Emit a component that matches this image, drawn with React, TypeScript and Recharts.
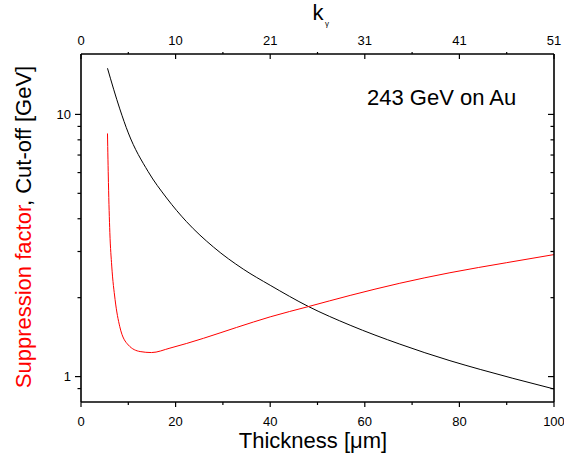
import React from 'react';
import { LineChart, Line, XAxis, YAxis } from 'recharts';

// Black curve: cut-off energy [GeV] vs thickness [µm]
const thicknessCut = [5.6, 8.2, 10.0, 14.2, 18.1, 22.3, 28.0, 34.3, 40.0, 48.1, 56.9, 67.4, 78.0, 84.4, 91.3, 100];
const cutOff = [15.0, 10.5, 8.5, 6.05, 4.8, 3.9, 3.12, 2.57, 2.23, 1.85, 1.57, 1.33, 1.15, 1.065, 0.985, 0.897];

// Red curve: suppression factor vs thickness [µm]
const thicknessSup = [5.6, 5.8, 6.1, 6.5, 7.2, 8.2, 10.0, 12.5, 14.9, 18.8, 25.9, 32.9, 40.0, 48.1, 56.9, 67.4, 78.0, 90.0, 100];
const suppression = [8.46, 5.5, 3.54, 2.64, 1.97, 1.55, 1.32, 1.246, 1.235, 1.284, 1.4, 1.54, 1.69, 1.85, 2.04, 2.27, 2.49, 2.72, 2.92];

const xTicks = [0, 10, 20, 30, 40, 50, 60, 70, 80, 90, 100];
const xMajorTicks = [0, 20, 40, 60, 80, 100];
const topTickLabels = ['0', '10', '21', '31', '41', '51'];
const yTicks = [0.9, 1, 2, 3, 4, 5, 6, 7, 8, 9, 10];
const yMajorTicks = [1, 10];

const cutData = thicknessCut.map((x, i) => ({ x, v: cutOff[i] }));
const supData = thicknessSup.map((x, i) => ({ x, v: suppression[i] }));

const FONT = '"Liberation Sans", Arial, Helvetica, sans-serif';

const BottomTick = (props: any) => {
  const { x, y, payload } = props;
  const major = xMajorTicks.includes(payload.value);
  return (
    <g>
      <line x1={x} x2={x} y1={y} y2={y + (major ? 5 : 3)} stroke="#000" strokeWidth={1.2} />
      {major && (
        <text x={x} y={y + 19} textAnchor="middle" dominantBaseline="central" fontSize={13} fontFamily={FONT} fill="#000">
          {payload.value}
        </text>
      )}
    </g>
  );
};

const TopTick = (props: any) => {
  const { x, y, payload } = props;
  const idx = xMajorTicks.indexOf(payload.value);
  const major = idx >= 0;
  return (
    <g>
      {major ? (
        <line x1={x} x2={x} y1={y} y2={y + 5} stroke="#000" strokeWidth={1.2} />
      ) : (
        <line x1={x} x2={x} y1={y} y2={y - 2} stroke="#000" strokeWidth={1.2} />
      )}
      {major && (
        <text x={x} y={y - 13.5} textAnchor="middle" dominantBaseline="central" fontSize={13} fontFamily={FONT} fill="#000">
          {topTickLabels[idx]}
        </text>
      )}
    </g>
  );
};

const LeftTick = (props: any) => {
  const { x, y, payload } = props;
  const major = yMajorTicks.includes(payload.value);
  return (
    <g>
      <line x1={x - (major ? 6 : 3.5)} x2={x} y1={y} y2={y} stroke="#000" strokeWidth={1.2} />
      {major && (
        <text x={x - 10} y={y} textAnchor="end" dominantBaseline="central" fontSize={13} fontFamily={FONT} fill="#000">
          {payload.value}
        </text>
      )}
    </g>
  );
};

const RightTick = (props: any) => {
  const { x, y, payload } = props;
  const major = yMajorTicks.includes(payload.value);
  return <line x1={x - (major ? 6 : 3.5)} x2={x} y1={y} y2={y} stroke="#000" strokeWidth={1.2} />;
};

export default function App() {
  return (
    <div style={{ position: 'absolute', left: 0, top: 0, width: 564, height: 466, background: '#fff' }}>
      <LineChart width={564} height={466} margin={{ top: 0, right: 0, bottom: 0, left: 0 }}>
        <XAxis
          xAxisId="bottom"
          dataKey="x"
          type="number"
          domain={[0, 100]}
          ticks={xTicks}
          allowDataOverflow
          height={64}
          tickSize={0}
          tickMargin={0}
          tickLine={false}
          tick={<BottomTick />}
          interval={0}
          axisLine={{ stroke: '#000', strokeWidth: 1.6 }}
        />
        <XAxis
          xAxisId="top"
          orientation="top"
          dataKey="x"
          type="number"
          domain={[0, 100]}
          ticks={xTicks}
          allowDataOverflow
          height={54}
          tickSize={0}
          tickMargin={0}
          tickLine={false}
          tick={<TopTick />}
          interval={0}
          axisLine={{ stroke: '#000', strokeWidth: 1.6 }}
        />
        <YAxis
          yAxisId="left"
          scale="log"
          type="number"
          domain={[0.8, 17]}
          ticks={yTicks}
          allowDataOverflow
          width={81}
          tickSize={0}
          tickMargin={0}
          tickLine={false}
          tick={<LeftTick />}
          interval={0}
          axisLine={{ stroke: '#000', strokeWidth: 1.6 }}
        />
        <YAxis
          yAxisId="right"
          orientation="right"
          scale="log"
          type="number"
          domain={[0.8, 17]}
          ticks={yTicks}
          allowDataOverflow
          width={10}
          tickSize={0}
          tickMargin={0}
          tickLine={false}
          tick={<RightTick />}
          interval={0}
          axisLine={{ stroke: '#000', strokeWidth: 1.6 }}
        />
        <Line
          data={cutData}
          xAxisId="bottom"
          yAxisId="left"
          dataKey="v"
          type="monotone"
          stroke="#000"
          strokeWidth={1}
          dot={false}
          isAnimationActive={false}
        />
        <Line
          data={supData}
          xAxisId="bottom"
          yAxisId="left"
          dataKey="v"
          type="monotone"
          stroke="#ff0000"
          strokeWidth={1}
          dot={false}
          isAnimationActive={false}
        />
        <text x={367} y={104.5} fontSize={22} fontFamily={FONT} fill="#000">
          243 GeV on Au
        </text>
        <text x={313} y={448} textAnchor="middle" fontSize={22} fontFamily={FONT} fill="#000">
          Thickness [μm]
        </text>
        <text x={318} y={20} textAnchor="middle" fontSize={22} fontFamily={FONT} fill="#000">
          k
        </text>
        <text x={325} y={26} fontSize={8} fontFamily={FONT} fill="#000">
          γ
        </text>
        <text
          x={31}
          y={227}
          textAnchor="middle"
          fontSize={22}
          fontFamily={FONT}
          transform="rotate(-90, 31, 227)"
        >
          <tspan fill="#ff0000">Suppression factor</tspan>
          <tspan fill="#000">, Cut-off [GeV]</tspan>
        </text>
      </LineChart>
    </div>
  );
}
